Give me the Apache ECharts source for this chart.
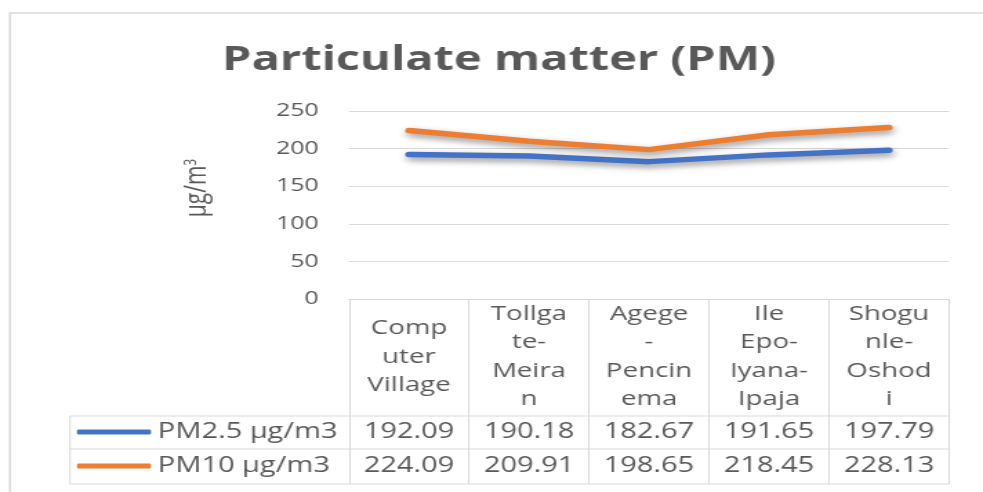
<!DOCTYPE html>
<html>
<head>
<meta charset="utf-8">
<script src="https://cdn.jsdelivr.net/npm/echarts@6/dist/echarts.min.js"></script>
<style>
	html, body { margin: 0; padding: 0; background: #fff; overflow: hidden; }
	#wrap { width: 983px; height: 492px; overflow: hidden; }
	#pmChart { width: 712px; height: 492px; transform: scaleX(1.380618); transform-origin: 0 0; }
</style>
</head>
<body>
<div id="wrap"><div id="pmChart"></div></div>
<script>
var headerLabels = ['Comp\nuter\nVillage', 'Tollga\nte-\nMeira\nn', 'Agege\n-\nPencin\nema', 'Ile\nEpo-\nIyana-\nIpaja', 'Shogu\nnle-\nOshod\ni'];
var pm25 = [192.09, 190.18, 182.67, 191.65, 197.79];
var pm10 = [224.09, 209.91, 198.65, 218.45, 228.13];
var seriesNames = ['PM2.5 μg/m3', 'PM10 μg/m3'];
var yTicks = [0, 50, 100, 150, 200, 250];

// the reference picture is stretched sideways, so draw narrow and scale the div
var S = 983 / 712;
var textColor = '#595959',
	lineColor = '#d9d9d9';

function px(x) {
	return x / S;
}

function rowLine(y) {
	return {
		type: 'line',
		shape: { x1: px(70), y1: y, x2: px(949), y2: y },
		style: { stroke: lineColor, lineWidth: 1 }
	};
}

function valueAxis(vals, margin) {
	return {
		type: 'category',
		gridIndex: 0,
		position: 'bottom',
		data: vals.map(function(v) { return v.toFixed(2); }),
		axisLine: { show: false },
		axisTick: { show: false },
		axisLabel: {
			interval: 0,
			margin: margin,
			verticalAlign: 'middle',
			color: textColor,
			fontFamily: 'Open Sans',
			fontSize: 21
		}
	};
}

function lineSeries(name, vals, color) {
	return {
		name: name,
		type: 'line',
		data: vals,
		symbol: 'none',
		color: color,
		lineStyle: {
			color: color,
			width: 5.5,
			cap: 'round',
			join: 'round',
			shadowColor: 'rgba(0,0,0,0.45)',
			shadowBlur: 6,
			shadowOffsetX: 1,
			shadowOffsetY: 3
		}
	};
}

function setChart() {
	var chartOption = {
		animation: false,
		title: {
			text: 'Particulate matter (PM)',
			left: px(499),
			top: 43,
			padding: 0,
			textAlign: 'center',
			textStyle: {
				color: textColor,
				fontFamily: 'Open Sans',
				fontWeight: 'bold',
				fontSize: 34
			}
		},
		legend: {
			orient: 'vertical',
			left: px(77),
			top: 421,
			padding: 0,
			itemGap: 12,
			itemWidth: px(74),
			itemHeight: 5,
			icon: 'roundRect',
			data: seriesNames,
			textStyle: {
				color: textColor,
				fontFamily: 'Open Sans',
				fontSize: 21,
				lineHeight: 22
			}
		},
		grid: {
			left: px(349),
			right: 712 - px(949),
			top: 111,
			bottom: 492 - 299
		},
		xAxis: [{
			type: 'category',
			data: headerLabels,
			boundaryGap: true,
			axisLine: { lineStyle: { color: lineColor, width: 1 } },
			axisTick: {
				show: true,
				interval: 0,
				length: 185,
				lineStyle: { color: lineColor, width: 1 }
			},
			axisLabel: {
				interval: 0,
				margin: 58,
				verticalAlign: 'middle',
				align: 'center',
				color: textColor,
				fontFamily: 'Open Sans',
				fontSize: 20,
				lineHeight: 28.5
			}
		},
		valueAxis(pm25, 133.5),
		valueAxis(pm10, 167.5)],
		yAxis: [{
			type: 'value',
			min: yTicks[0],
			max: yTicks[yTicks.length - 1],
			interval: 50,
			name: 'μg/m{sup|3}',
			nameLocation: 'middle',
			nameRotate: 90,
			nameGap: 99,
			nameTextStyle: {
				color: textColor,
				fontFamily: 'Open Sans',
				fontSize: 21,
				padding: [0, 0, 0, 34],
				rich: {
					sup: {
						color: textColor,
						fontFamily: 'Open Sans',
						fontSize: 12,
						verticalAlign: 'top',
						padding: [0, 0, 9, 0]
					}
				}
			},
			axisLine: { show: false },
			axisTick: { show: false },
			splitLine: { lineStyle: { color: lineColor, width: 1 } },
			axisLabel: {
				margin: 22,
				color: textColor,
				fontFamily: 'Open Sans',
				fontSize: 18
			}
		}],
		series: [
			lineSeries(seriesNames[0], pm25, '#4472c4'),
			lineSeries(seriesNames[1], pm10, '#ed7d31')
		],
		graphic: [{
			type: 'rect',
			shape: { x: px(10), y: 13, width: 900, height: 600 },
			style: { fill: null, stroke: lineColor, lineWidth: 1.6 },
			silent: true
		},
		rowLine(416),
		rowLine(449),
		rowLine(484),
		{
			type: 'line',
			shape: { x1: px(70), y1: 416, x2: px(70), y2: 484 },
			style: { stroke: lineColor, lineWidth: 1 }
		}]
	};
	var lineChart = echarts.init(document.getElementById('pmChart'));
	lineChart.setOption(chartOption);
}

setChart();
</script>
</body>
</html>
